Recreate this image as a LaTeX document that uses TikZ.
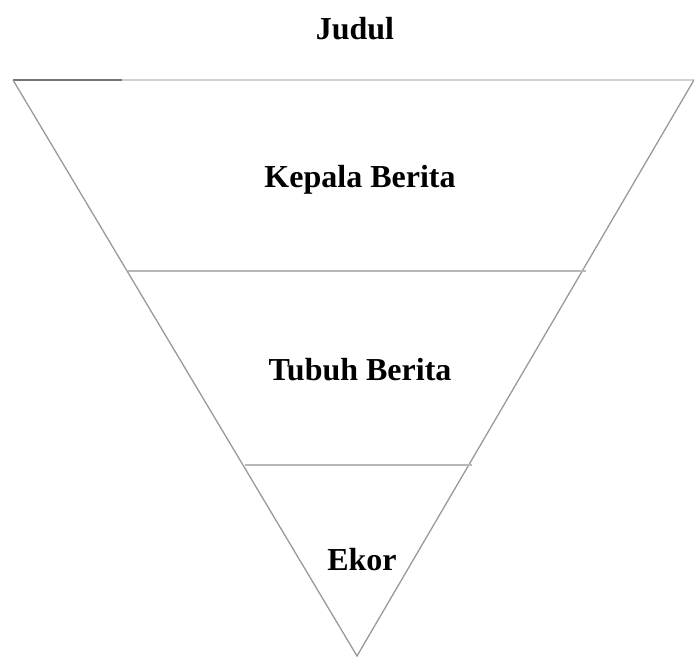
\documentclass[tikz,border=0pt]{standalone}
\usepackage{fontspec}
\setmainfont{Liberation Serif}
\begin{document}
\begin{tikzpicture}[x=1pt,y=-1pt,
  lbl/.style={font=\fontsize{32}{36}\selectfont\bfseries, inner sep=0pt},
  edge/.style={draw=black!40, line width=1.3pt},
  rule/.style={draw=black!28, line width=1.2pt}]
\useasboundingbox (0,0) rectangle (694,658);
\coordinate (tl) at (13,80);
\coordinate (tm) at (122,80);
\coordinate (tr) at (694,80);
\coordinate (ap) at (357,656);
\coordinate (m1l) at (128,271);
\coordinate (m1r) at (586,271);
\coordinate (m2l) at (245,465);
\coordinate (m2r) at (472,465);
\draw[draw=black!18, line width=1.2pt] (tm) -- (tr);
\draw[draw=black!55, line width=1.5pt] (tl) -- (tm);
\draw[edge] (tl) -- (ap) -- (tr);
\draw[rule] (m1l) -- (m1r);
\draw[rule] (m2l) -- (m2r);
\node[lbl] (judul) at (355,29) {Judul};
\node[lbl] (kepala) at (360,180) {Kepala Berita};
\node[lbl] (tubuh) at (360,370) {Tubuh Berita};
\node[lbl] (ekor) at (362,560) {Ekor};
\end{tikzpicture}
\end{document}
